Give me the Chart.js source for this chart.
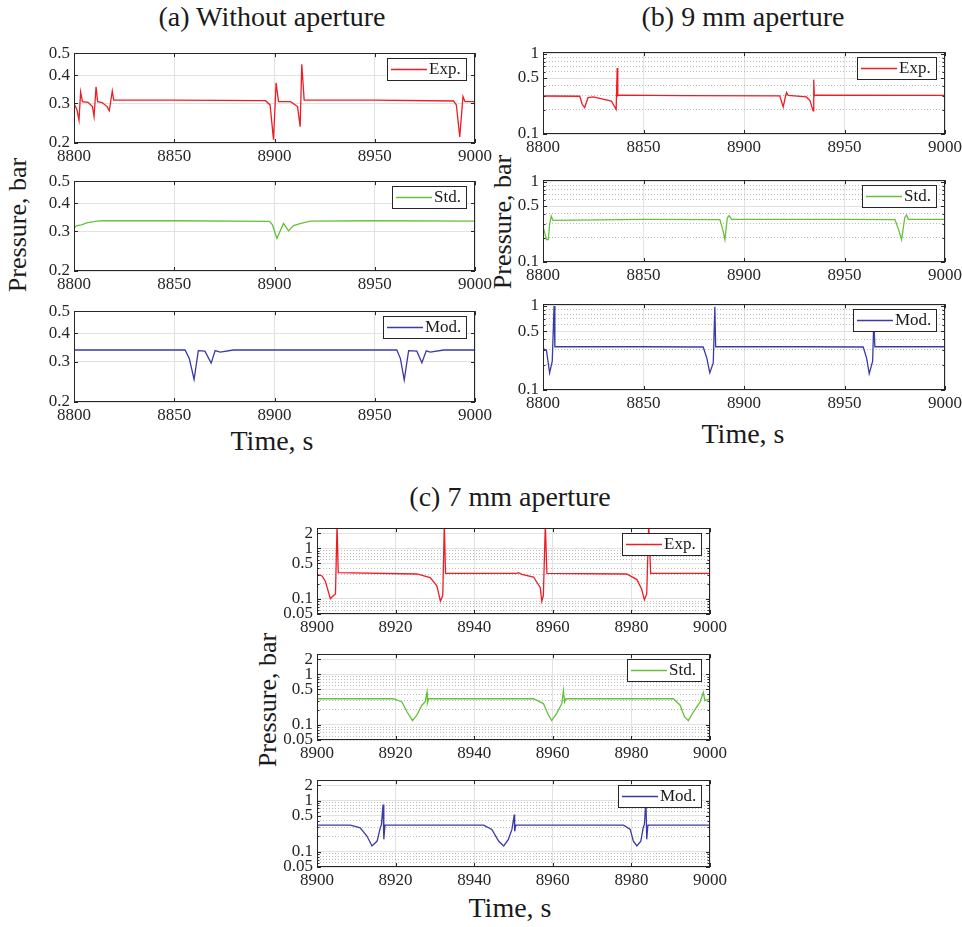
<!DOCTYPE html>
<html>
<head>
<meta charset="utf-8">
<title>Pressure traces</title>
<script src="https://cdn.jsdelivr.net/npm/chart.js@4.4.1/dist/chart.umd.min.js"></script>
<style>
  body { margin: 0; background: #fff; }
  #fig { position: relative; width: 962px; height: 927px; overflow: hidden;
         font-family: "Liberation Serif", "DejaVu Serif", serif; color: #1a1a1a; }
  #fig canvas { position: absolute; }
  .lbl { position: absolute; white-space: nowrap; line-height: 1; transform: translate(-50%, -50%); }
  .ylab { transform: translate(-50%, -50%) rotate(-90deg); }
</style>
</head>
<body>
<div id="fig">
  <div class="lbl" style="left:272px;top:17px;font-size:28px;">(a) Without aperture</div>
  <div class="lbl" style="left:743px;top:17px;font-size:28px;">(b) 9 mm aperture</div>
  <div class="lbl" style="left:510px;top:497px;font-size:28px;">(c) 7 mm aperture</div>
  <div class="lbl ylab" style="left:18px;top:225px;font-size:26px;">Pressure, bar</div>
  <div class="lbl ylab" style="left:503px;top:222px;font-size:26px;">Pressure, bar</div>
  <div class="lbl ylab" style="left:268px;top:700px;font-size:26px;">Pressure, bar</div>
  <div class="lbl" style="left:272px;top:441px;font-size:28px;">Time, s</div>
  <div class="lbl" style="left:743px;top:434px;font-size:28px;">Time, s</div>
  <div class="lbl" style="left:510px;top:908px;font-size:28px;">Time, s</div>
</div>
<script>
// ---- data ----

// tick labels
const xTicksAB = [8800, 8850, 8900, 8950, 9000];
const xTicksC = [8900, 8920, 8940, 8960, 8980, 9000];
const yTicksA = [0.2, 0.3, 0.4, 0.5];
const yTicksB = [0.1, 0.5, 1];
const yMinorB = [0.2, 0.3, 0.4, 0.6, 0.7, 0.8, 0.9];
const yTicksC = [0.05, 0.1, 0.5, 1, 2];
const yMinorC = [0.06, 0.07, 0.08, 0.09, 0.2, 0.3, 0.4, 0.6, 0.7, 0.8, 0.9];

// (a) without aperture
const timeA_exp = [8800, 8801.5, 8802.5, 8803.3, 8804.2, 8807, 8809.2, 8810, 8811, 8811.8, 8814, 8816.5, 8817.6, 8819.1, 8819.8, 8850, 8895.5, 8897.8, 8899.5, 8900.8, 8902, 8908, 8911.5, 8912.8, 8913.6, 8914.8, 8950, 8989.3, 8990.7, 8992.4, 8994, 8995, 9000];
const presA_exp = [0.30, 0.28, 0.252, 0.337, 0.305, 0.303, 0.29, 0.262, 0.355, 0.305, 0.302, 0.29, 0.278, 0.34, 0.31, 0.31, 0.308, 0.295, 0.207, 0.37, 0.305, 0.305, 0.29, 0.236, 0.447, 0.31, 0.31, 0.307, 0.295, 0.213, 0.322, 0.305, 0.305];
const timeA_std = [8800, 8801.3, 8803.8, 8806.3, 8811.3, 8815, 8850, 8897.5, 8899, 8901.2, 8904.5, 8907, 8909.5, 8912.8, 8917.8, 8950, 9000];
const presA_std = [0.309, 0.318, 0.32, 0.327, 0.333, 0.334, 0.334, 0.332, 0.32, 0.279, 0.325, 0.301, 0.318, 0.324, 0.333, 0.334, 0.333];
const timeA_mod = [8800, 8855.4, 8857.5, 8859.9, 8862, 8865.3, 8868.4, 8870.4, 8872.9, 8879.5, 8961, 8962.8, 8964.7, 8966.9, 8971, 8973.5, 8975.7, 8977.7, 8984.4, 9000];
const presA_mod = [0.338, 0.338, 0.31, 0.251, 0.336, 0.334, 0.296, 0.336, 0.331, 0.338, 0.338, 0.31, 0.25, 0.336, 0.334, 0.297, 0.335, 0.331, 0.338, 0.338];

// (b) 9 mm aperture
const timeB_exp = [8800, 8818.3, 8819.5, 8820.7, 8822.4, 8825, 8834, 8836.4, 8836.9, 8837.2, 8837.8, 8870, 8917.8, 8919.5, 8920.7, 8921.2, 8922, 8931, 8932.8, 8934.4, 8934.7, 8935, 8935.8, 9000];
const presB_exp = [0.298, 0.296, 0.235, 0.213, 0.284, 0.29, 0.258, 0.203, 0.665, 0.30, 0.305, 0.302, 0.3, 0.218, 0.30, 0.33, 0.303, 0.29, 0.262, 0.194, 0.477, 0.30, 0.306, 0.303];
const timeB_std = [8800, 8801.7, 8802.6, 8803.3, 8804.1, 8805, 8850, 8888, 8889.5, 8890.5, 8891.7, 8892.6, 8893.8, 8950, 8975.1, 8977, 8978.4, 8980, 8980.9, 8981.8, 9000];
const presB_std = [0.28, 0.19, 0.19, 0.294, 0.374, 0.33, 0.34, 0.338, 0.25, 0.19, 0.357, 0.38, 0.34, 0.34, 0.338, 0.25, 0.19, 0.36, 0.385, 0.34, 0.34];
const timeB_mod = [8800, 8801.7, 8803.3, 8804.6, 8805.5, 8805.9, 8850, 8879.7, 8881.5, 8883, 8884.7, 8885.5, 8885.9, 8930, 8959.3, 8961, 8962.3, 8964, 8964.6, 8965.1, 9000];
const presB_mod = [0.31, 0.297, 0.16, 0.22, 1.0, 0.327, 0.327, 0.325, 0.24, 0.16, 0.21, 0.98, 0.327, 0.327, 0.325, 0.24, 0.156, 0.22, 0.7, 0.327, 0.327];

// (c) 7 mm aperture
const timeC_exp = [8900, 8901.3, 8902.1, 8903.4, 8904.2, 8904.7, 8905.1, 8905.4, 8925.4, 8928.8, 8930.5, 8931.4, 8932, 8932.4, 8932.7, 8950.8, 8951.3, 8952.1, 8955.1, 8956.8, 8957.2, 8957.6, 8958.1, 8958.5, 8978.8, 8981.4, 8982.6, 8983.3, 8983.9, 8984.4, 8984.9, 9000];
const presC_exp = [0.305, 0.283, 0.226, 0.10, 0.116, 0.125, 3.0, 0.33, 0.31, 0.263, 0.18, 0.09, 0.116, 3.0, 0.318, 0.318, 0.328, 0.305, 0.27, 0.168, 0.09, 0.116, 3.0, 0.318, 0.31, 0.24, 0.156, 0.096, 0.125, 3.0, 0.318, 0.318];
const timeC_std = [8900, 8919.5, 8921.6, 8922.9, 8924.3, 8925.4, 8926.7, 8927.5, 8928, 8928.1, 8928.4, 8955.1, 8957.6, 8958.9, 8959.7, 8961, 8962.3, 8962.7, 8963, 8963.3, 8990.7, 8992.4, 8993.5, 8994.5, 8995.8, 8997.5, 8998.3, 8998.7, 9000];
const presC_std = [0.328, 0.328, 0.283, 0.181, 0.121, 0.156, 0.244, 0.283, 0.44, 0.27, 0.328, 0.328, 0.263, 0.156, 0.121, 0.168, 0.263, 0.476, 0.283, 0.328, 0.328, 0.244, 0.145, 0.121, 0.181, 0.283, 0.44, 0.30, 0.328];
const timeC_mod = [8900, 8908.5, 8911, 8912.7, 8914, 8915.3, 8916.1, 8916.4, 8916.8, 8917, 8917.3, 8942.4, 8944.5, 8946.2, 8947.5, 8948.7, 8949.6, 8950.2, 8950.3, 8950.6, 8978, 8979.7, 8980.5, 8981.4, 8982.4, 8983, 8983.3, 8983.7, 8983.9, 8984.2, 9000];
const presC_mod = [0.33, 0.33, 0.293, 0.202, 0.129, 0.161, 0.293, 0.34, 0.836, 0.174, 0.33, 0.33, 0.272, 0.161, 0.129, 0.174, 0.272, 0.533, 0.25, 0.33, 0.33, 0.272, 0.16, 0.129, 0.16, 0.293, 0.34, 1.0, 0.174, 0.33, 0.33];

// ---- styling / layout ----
const RED = '#f01c24', GREEN = '#66c23a', BLUE = '#3a3aa8';
const INK = '#262626';
const Y_W = 50, X_H = 26, PAD_T = 14, PAD_R = 24;

Chart.defaults.font.family = '"Liberation Serif", "DejaVu Serif", serif';
Chart.defaults.font.size = 17;
Chart.defaults.color = INK;

// inward ticks, box frame and a boxed legend like the original
const axesBox = {
  id: 'axesBox',
  afterDatasetsDraw(chart) {
    const ctx = chart.ctx, a = chart.chartArea;
    const sx = chart.scales.x, sy = chart.scales.y;
    ctx.save();
    ctx.strokeStyle = INK;
    ctx.lineWidth = 1;
    ctx.beginPath();
    sx.ticks.forEach(tk => {
      const px = Math.round(sx.getPixelForValue(tk.value)) + 0.5;
      ctx.moveTo(px, a.bottom); ctx.lineTo(px, a.bottom - 4);
      ctx.moveTo(px, a.top); ctx.lineTo(px, a.top + 4);
    });
    sy.ticks.forEach(tk => {
      const py = Math.round(sy.getPixelForValue(tk.value)) + 0.5;
      const len = tk.isMinor ? 2.5 : 4;
      ctx.moveTo(a.left, py); ctx.lineTo(a.left + len, py);
      ctx.moveTo(a.right, py); ctx.lineTo(a.right - len, py);
    });
    ctx.stroke();
    ctx.strokeRect(Math.round(a.left) + 0.5, Math.round(a.top) + 0.5,
                   Math.round(a.width) - 1, Math.round(a.height) - 1);

    // legend
    const ds = chart.data.datasets[0];
    ctx.font = '17px "Liberation Serif", "DejaVu Serif", serif';
    const tw = ctx.measureText(ds.label).width;
    const h = 22, w = Math.round(4 + 36 + 2 + tw + 5);
    const bx = Math.round(a.right - 9 - w), by = Math.round(a.top + 5);
    ctx.fillStyle = '#fff';
    ctx.fillRect(bx, by, w, h);
    ctx.strokeStyle = INK;
    ctx.strokeRect(bx + 0.5, by + 0.5, w, h);
    ctx.strokeStyle = ds.borderColor;
    ctx.lineWidth = 1.3;
    ctx.beginPath();
    ctx.moveTo(bx + 4, by + h / 2 + 0.5);
    ctx.lineTo(bx + 40, by + h / 2 + 0.5);
    ctx.stroke();
    ctx.fillStyle = '#1a1a1a';
    ctx.textBaseline = 'middle';
    ctx.fillText(ds.label, bx + 42, by + h / 2 + 1);
    ctx.restore();
  }
};

function addChart(box, label, color, times, pres, xAxis, yAxis) {
  const cv = document.createElement('canvas');
  cv.width = box.w + Y_W + PAD_R;
  cv.height = box.h + PAD_T + X_H;
  cv.style.left = (box.l - Y_W) + 'px';
  cv.style.top = (box.t - PAD_T) + 'px';
  document.getElementById('fig').appendChild(cv);

  const yTickList = yAxis.major.map(v => ({ value: v, isMinor: false }))
    .concat((yAxis.minor || []).map(v => ({ value: v, isMinor: true })))
    .sort((p, q) => p.value - q.value);

  return new Chart(cv, {
    type: 'line',
    data: {
      datasets: [{
        label: label,
        data: times.map((t, i) => ({ x: t, y: pres[i] })),
        borderColor: color,
        borderWidth: 1.3,
        pointRadius: 0,
        tension: 0,
        clip: 0
      }]
    },
    options: {
      responsive: false,
      animation: false,
      layout: { padding: { left: 0, top: PAD_T, right: PAD_R, bottom: 0 } },
      plugins: { legend: { display: false }, tooltip: { enabled: false } },
      scales: {
        x: {
          type: 'linear',
          min: xAxis.min,
          max: xAxis.max,
          afterBuildTicks: s => { s.ticks = xAxis.ticks.map(v => ({ value: v })); },
          afterFit: s => { s.height = X_H; },
          ticks: { autoSkip: false, maxRotation: 0, padding: 3, callback: v => String(v) },
          grid: { color: '#e2e2e2', drawTicks: false },
          border: { display: false }
        },
        y: {
          type: 'logarithmic',
          min: yAxis.min,
          max: yAxis.max,
          afterBuildTicks: s => { s.ticks = yTickList.map(t => ({ ...t })); },
          afterFit: s => { s.width = Y_W; },
          ticks: {
            autoSkip: false,
            padding: 4,
            callback: (v, i, tks) => (tks[i] && tks[i].isMinor) ? '' : String(v)
          },
          grid: {
            color: c => (c.tick && c.tick.isMinor) ? '#bcbcbc' : '#e2e2e2',
            drawTicks: false
          },
          border: {
            display: false,
            dash: c => (c.tick && c.tick.isMinor) ? [1, 2] : []
          }
        }
      }
    },
    plugins: [axesBox]
  });
}

const xAB = { min: 8800, max: 9000, ticks: xTicksAB };
const xC = { min: 8900, max: 9000, ticks: xTicksC };
const yA = { min: 0.2, max: 0.5, major: yTicksA };
const yB = { min: 0.1, max: 1.05, major: yTicksB, minor: yMinorB };
const yC = { min: 0.05, max: 2.5, major: yTicksC, minor: yMinorC };

// plot-area boxes (pixels)
addChart({ l: 74, t: 53, w: 401, h: 90 }, 'Exp.', RED, timeA_exp, presA_exp, xAB, yA);
addChart({ l: 74, t: 181, w: 401, h: 90 }, 'Std.', GREEN, timeA_std, presA_std, xAB, yA);
addChart({ l: 74, t: 311, w: 401, h: 91 }, 'Mod.', BLUE, timeA_mod, presA_mod, xAB, yA);

addChart({ l: 543, t: 52, w: 402, h: 82 }, 'Exp.', RED, timeB_exp, presB_exp, xAB, yB);
addChart({ l: 543, t: 180, w: 402, h: 82 }, 'Std.', GREEN, timeB_std, presB_std, xAB, yB);
addChart({ l: 543, t: 304, w: 402, h: 86 }, 'Mod.', BLUE, timeB_mod, presB_mod, xAB, yB);

addChart({ l: 317, t: 528, w: 393, h: 86 }, 'Exp.', RED, timeC_exp, presC_exp, xC, yC);
addChart({ l: 317, t: 654, w: 393, h: 86 }, 'Std.', GREEN, timeC_std, presC_std, xC, yC);
addChart({ l: 317, t: 780, w: 393, h: 87 }, 'Mod.', BLUE, timeC_mod, presC_mod, xC, yC);
</script>
</body>
</html>
